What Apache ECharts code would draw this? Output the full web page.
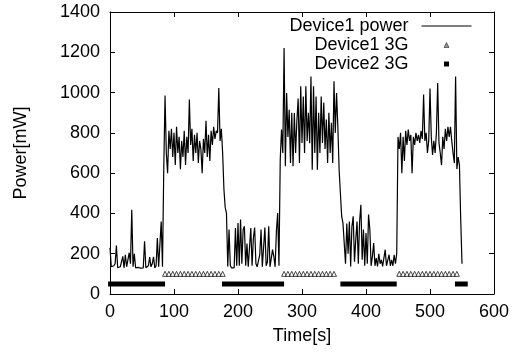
<!DOCTYPE html>
<html>
<head>
<meta charset="utf-8">
<script src="https://cdn.jsdelivr.net/npm/echarts@6/dist/echarts.min.js"></script>
<style>
html,body{margin:0;padding:0;background:#fff;}
#chart{width:514px;height:356px;}
</style>
</head>
<body>
<div id="chart"></div>
<script>
// Device1 power [mW], one sample every 2 s starting at t = 0 s
const SAMPLE_STEP = 2;
const device1Power = [
  230,135,130,140,150,240,130,128,135,130,
  187,130,195,135,140,205,150,418,135,200,
  130,128,132,130,128,135,130,262,130,128,
  140,183,135,150,185,130,140,278,135,130,
  360,135,620,985,700,600,810,720,820,680,
  800,640,830,700,780,620,760,680,810,640,
  780,700,965,740,820,660,790,700,800,650,
  760,720,600,770,700,860,680,790,660,810,
  740,830,770,810,800,1023,760,820,700,520,
  430,400,136,320,140,130,135,130,328,140,
  352,140,370,150,319,336,140,250,135,130,
  328,140,278,330,150,135,140,195,320,135,
  130,330,140,160,336,135,140,220,186,135,
  311,402,140,667,816,700,1221,634,998,780,
  915,650,900,634,898,700,860,971,650,1031,
  750,980,700,1031,760,900,749,1080,617,1031,
  700,980,617,900,700,980,750,950,720,866,
  650,900,700,850,650,1056,800,998,831,617,
  500,385,352,360,150,350,200,360,137,335,
  386,160,270,360,150,360,443,170,320,140,
  303,150,395,320,140,187,253,140,178,137,
  200,150,170,137,145,220,140,145,195,140,
  170,140,195,150,200,780,720,800,600,780,
  660,810,740,816,760,790,600,780,740,800,
  760,790,750,810,770,990,760,800,700,760,
  1020,780,690,760,700,800,1048,750,700,640,
  780,720,820,760,830,780,830,760,700,650,
  1080,620,680,640,370,150
];

// Device1 3G markers (time in s), plotted at level 100
const device1_3G_level = 100;
const device1_3G_times = [
  86,92,98,104,110,116,122,128,134,140,146,152,158,164,170,176,
  272,278,284,290,296,302,308,314,320,326,332,338,344,350,
  452,458,464,470,476,482,488,494,500,506,512,518,524,530,536,542
];

// Device2 3G periods (start / end time in s), plotted at level 50
const device2_3G_level = 50;
const device2_3G_start = [-3, 175, 360, 539];
const device2_3G_end   = [86, 272, 448, 559];

const xTicks = {min: 0, max: 600, interval: 100};
const yTicks = {min: 0, max: 1400, interval: 200};

const FONT = 'Liberation Sans';

const powerData = device1Power.map((v, i) => [i * SAMPLE_STEP, v]);
const d1Data = device1_3G_times.map(t => [t, device1_3G_level]);
const d2Data = [];
device2_3G_start.forEach((s, i) => {
  d2Data.push([s, device2_3G_level]);
  d2Data.push([device2_3G_end[i], device2_3G_level]);
  d2Data.push([device2_3G_end[i], '-']);
});

const chart = echarts.init(document.getElementById('chart'), null, {renderer: 'canvas'});

const axisCommon = {
  type: 'value',
  axisLine: {show: true, onZero: false, lineStyle: {color: '#000', width: 1}},
  axisTick: {show: true, inside: true, length: 5, lineStyle: {color: '#000'}},
  splitLine: {show: false}
};

chart.setOption({
  animation: false,
  backgroundColor: '#fff',
  textStyle: {fontFamily: FONT},
  grid: {left: 110, right: 20, top: 12, bottom: 62},
  legend: {
    orient: 'vertical',
    align: 'right',
    right: 42,
    top: 17,
    padding: 0,
    itemWidth: 50,
    itemHeight: 5,
    itemGap: 1,
    selectedMode: false,
    textStyle: {fontFamily: FONT, fontSize: 18, color: '#000', lineHeight: 17, padding: [0, 8, 0, 0]},
    data: [
      {name: 'Device1 power', itemStyle: {opacity: 0}, lineStyle: {width: 1}},
      {name: 'Device1 3G', icon: 'path://M0,10 L5,0 L10,10 Z', itemStyle: {color: '#777', borderColor: '#000', borderWidth: 0.6}},
      {name: 'Device2 3G', icon: 'path://M0,0 L10,0 L10,10 L0,10 Z'}
    ]
  },
  xAxis: [
    Object.assign({}, axisCommon, {
      position: 'bottom', min: xTicks.min, max: xTicks.max, interval: xTicks.interval,
      name: 'Time[s]', nameLocation: 'middle', nameGap: 33,
      nameTextStyle: {fontFamily: FONT, fontSize: 18, color: '#000'},
      axisLabel: {fontFamily: FONT, fontSize: 18, color: '#000', margin: 9, formatter: v => String(v)}
    }),
    Object.assign({}, axisCommon, {
      position: 'top', min: xTicks.min, max: xTicks.max, interval: xTicks.interval,
      axisLabel: {show: false}
    })
  ],
  yAxis: [
    Object.assign({}, axisCommon, {
      position: 'left', min: yTicks.min, max: yTicks.max, interval: yTicks.interval,
      name: 'Power[mW]', nameLocation: 'middle', nameGap: 80, nameRotate: 90,
      nameTextStyle: {fontFamily: FONT, fontSize: 18, color: '#000'},
      axisLabel: {fontFamily: FONT, fontSize: 18, color: '#000', margin: 10, formatter: v => String(v)}
    }),
    Object.assign({}, axisCommon, {
      position: 'right', min: yTicks.min, max: yTicks.max, interval: yTicks.interval,
      axisLabel: {show: false}
    })
  ],
  series: [
    {
      name: 'Device1 power', type: 'line', data: powerData,
      symbol: 'none', lineStyle: {color: '#000', width: 1.2}, itemStyle: {color: '#000'},
      z: 3
    },
    {
      name: 'Device1 3G', type: 'scatter', data: d1Data,
      symbol: 'triangle', symbolSize: 5,
      itemStyle: {color: '#fff', borderColor: '#000', borderWidth: 0.9},
      z: 2
    },
    {
      name: 'Device2 3G', type: 'line', data: d2Data,
      symbol: 'none', clip: false, connectNulls: false,
      lineStyle: {color: '#000', width: 5, cap: 'butt'}, itemStyle: {color: '#000'},
      z: 2
    }
  ]
});
</script>
</body>
</html>
